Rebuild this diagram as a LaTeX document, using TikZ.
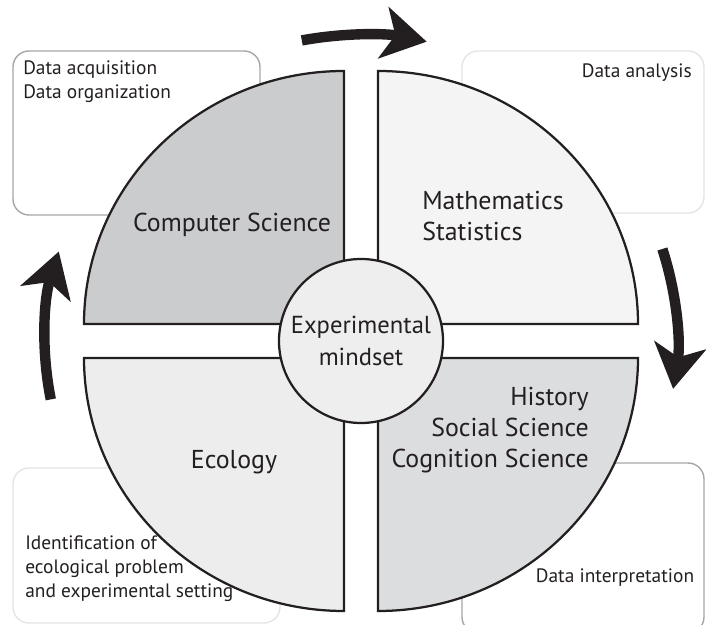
\documentclass[tikz,border=0pt]{standalone}
\usepackage{fontspec}
\setmainfont{PT Sans}
\usetikzlibrary{arrows.meta}

\definecolor{ink}{HTML}{231F20}
\definecolor{csfill}{HTML}{CBCCCE}
\definecolor{mathfill}{HTML}{F4F4F4}
\definecolor{ecofill}{HTML}{EDEDED}
\definecolor{histfill}{HTML}{DCDDDF}
\definecolor{hubfill}{HTML}{EEEEEE}
\definecolor{boxdark}{HTML}{A6A6A6}
\definecolor{boxlight}{HTML}{E4E4E4}

\tikzset{
	quarter/.style = {draw=ink, line width=1.6pt},
	infobox/.style = {rounded corners=4mm, line width=1pt},
	field/.style = {inner sep=0pt, text=ink, font=\fontsize{18.4}{22}\selectfont},
	note/.style = {inner sep=0pt, text=ink, font=\fontsize{13.8}{17}\selectfont},
	hub/.style = {circle, draw=ink, line width=1.6pt, fill=hubfill, minimum size=41mm,
		inner sep=0pt, align=center, text=ink, font=\fontsize{17.5}{23}\selectfont},
	cycle arrow/.style = {draw=ink, line width=2.6mm,
		-{Stealth[length=11mm, width=13mm, inset=3mm]}}
}

\begin{document}
\begin{tikzpicture}[x=0.25mm, y=0.25mm]
	\useasboundingbox (-361,-284) rectangle (345,341);

	% task boxes behind the wheel
	\draw[infobox, draw=boxdark] (-348,126) rectangle (-101,290);
	\draw[infobox, draw=boxlight] (101,128) rectangle (343,290);
	\draw[infobox, draw=boxlight] (-348,-282) rectangle (-81,-127);
	\draw[infobox, draw=boxdark] (101,-292) rectangle (343,-122);

	% the four fields
	\draw[quarter, fill=csfill] (-17,17) -- (-17,270)
		arc[start angle=90, end angle=180, x radius=260, y radius=253] -- cycle;
	\draw[quarter, fill=mathfill] (17,17) -- (277,17)
		arc[start angle=0, end angle=90, x radius=260, y radius=253] -- cycle;
	\draw[quarter, fill=ecofill] (-17,-17) -- (-277,-17)
		arc[start angle=180, end angle=270, x radius=260, y radius=253] -- cycle;
	\draw[quarter, fill=histfill] (17,-17) -- (17,-270)
		arc[start angle=270, end angle=360, x radius=260, y radius=253] -- cycle;

	\node[field] (cs) at (-129,116) {Computer Science};
	\node[field, anchor=west, align=left] (math) at (61,125) {Mathematics\\Statistics};
	\node[field] (eco) at (-127,-121) {Ecology};
	\node[field, anchor=east, align=right] (hist) at (228,-89)
		{History\\Social Science\\Cognition Science};

	\node[hub] (mind) at (0,0) {Experimental\\mindset};

	% box texts
	\node[note, anchor=west, align=left] (acq) at (-338,259) {Data acquisition\\Data organization};
	\node[note, anchor=east] (ana) at (331,268) {Data analysis};
	\node[note, anchor=west, align=left] (ident) at (-336,-228)
		{Identification of\\ecological problem\\and experimental setting};
	\node[note] (interp) at (254,-237) {Data interpretation};

	% clockwise cycle
	\draw[cycle arrow] (100.8:316 and 306) arc[start angle=100.8, end angle=78, x radius=316, y radius=306];
	\draw[cycle arrow] (17.5:316 and 306) arc[start angle=17.5, end angle=-9, x radius=316, y radius=306];
	\draw[cycle arrow] (191:316 and 306) arc[start angle=191, end angle=163, x radius=316, y radius=306];
\end{tikzpicture}
\end{document}
